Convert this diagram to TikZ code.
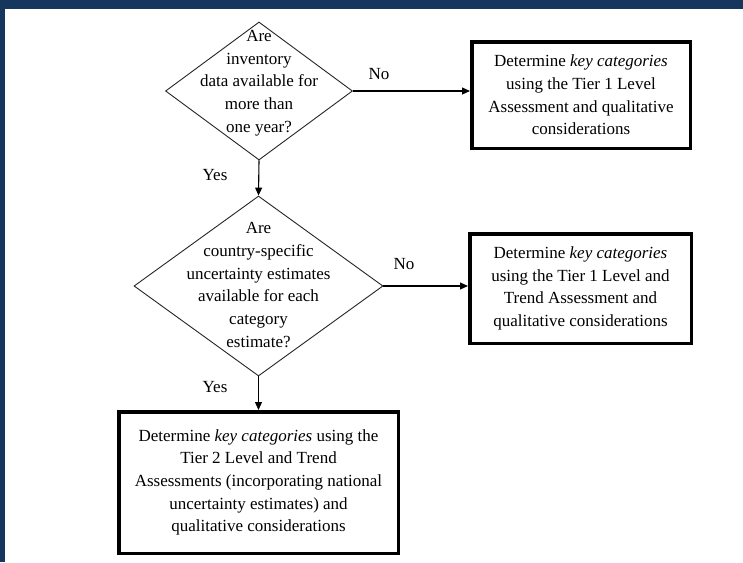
\documentclass[tikz,border=0pt]{standalone}
\usepackage{fontspec}
\setmainfont{Liberation Serif}
\usetikzlibrary{shapes.geometric,arrows.meta}
\definecolor{bandblue}{RGB}{23,54,93}
\begin{document}
\begin{tikzpicture}[x=1pt,y=-1pt,
  txt/.style={align=center, font=\fontsize{17}{22.7}\selectfont, inner sep=0pt},
  decision/.style={diamond, draw=black!85, line width=0.9pt, inner sep=0pt},
  outbox/.style={draw=black, line width=3.5pt, inner sep=0pt, align=center, font=\fontsize{17}{22.7}\selectfont},
  flow/.style={line width=1.1pt, -{Triangle[length=8pt,width=7pt]}},
  lbl/.style={font=\fontsize{17}{20}\selectfont, inner sep=0pt}]
\useasboundingbox (0,0) rectangle (743,562);
\fill[white] (0,0) rectangle (743,562);
\fill[bandblue] (0,0) rectangle (743,9);
\fill[bandblue] (0,0) rectangle (5,562);

% decisions
\node[decision, minimum width=187pt, minimum height=138pt] (d1) at (259,91) {};
\node[txt] (d1t) at (259,83) {Are\\inventory\\data available for\\more than\\one year?};
\node[decision, minimum width=249pt, minimum height=180pt] (d2) at (258.5,286) {};
\node[txt] (d2t) at (258.5,285) {Are\\country-specific\\uncertainty estimates\\available for each\\category\\estimate?};

% outcome boxes
\node[outbox, minimum width=218.5pt, minimum height=106.5pt] (b1) at (581,95)
  {Determine \textit{key categories}\\using the Tier 1 Level\\Assessment and qualitative\\considerations};
\node[outbox, minimum width=221.5pt, minimum height=109.5pt] (b2) at (580.5,288.5)
  {Determine \textit{key categories}\\using the Tier 1 Level and\\Trend Assessment and\\qualitative considerations};
\node[outbox, minimum width=279.5pt, minimum height=141.5pt] (b3) at (258.5,482.5)
  {Determine \textit{key categories} using the\\Tier 2 Level and Trend\\Assessments (incorporating national\\uncertainty estimates) and\\qualitative considerations};

% connectors
\draw[flow] (d1.east) -- (d1.east -| b1.west);
\draw[flow] (d1.south) -- (d2.north);
\draw[flow] (d2.east) -- (d2.east -| b2.west);
\draw[flow] (d2.south) -- (d2.south |- b3.north);

% labels
\node[lbl] (no1) at (379,74) {No};
\node[lbl] (yes1) at (215,175) {Yes};
\node[lbl] (no2) at (404,264) {No};
\node[lbl] (yes2) at (215,387) {Yes};
\end{tikzpicture}
\end{document}
